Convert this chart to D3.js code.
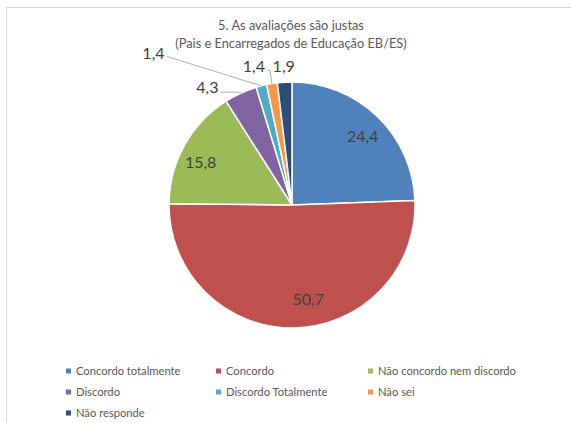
<!DOCTYPE html>
<html>
<head>
<meta charset="utf-8">
<script src="https://cdn.jsdelivr.net/npm/d3@7"></script>
<style>
  html, body { margin: 0; padding: 0; background: #fff; }
  svg { display: block; font-family: Lato, Carlito, Calibri, sans-serif; }
</style>
</head>
<body>
<svg id="chart" width="571" height="423"></svg>
<script>
// values (percent)
const categories = ["Concordo totalmente", "Concordo", "Não concordo nem discordo",
  "Discordo", "Discordo Totalmente", "Não sei", "Não responde"];
const values = [24.4, 50.7, 15.8, 4.3, 1.4, 1.4, 1.9];
const labels = ["24,4", "50,7", "15,8", "4,3", "1,4", "1,4", "1,9"];
const colors = ["#4F81BD", "#C0504D", "#9BBB59", "#8064A2", "#4BACC6", "#F79646", "#2C4D75"];
const titleLines = ["5. As avaliações são justas", "(Pais e Encarregados de Educação EB/ES)"];

var width = 571, height = 423;
var cx = 292, cy = 205, R = 123;

// label placement: radius as a fraction of R, angle tweak in degrees, leader style
var placement = [
  { r: 0.80, da: 2, leader: null },
  { r: 0.78, da: -9, leader: null },
  { r: 0.82, da: -4, leader: null },
  { r: 1.18, da: -11, leader: "h" },
  { r: 1.67, da: -28, leader: "line" },
  { r: 1.17, da: -6, leader: "elbow" },
  { r: 1.13, da: 0, leader: null }
];

var svg = d3.select("#chart");

// chart area border
svg.append("rect")
  .attr("x", 6.5).attr("y", 7.5)
  .attr("width", 570).attr("height", 420)
  .attr("fill", "none")
  .attr("stroke", "#d9d9d9")
  .attr("stroke-width", 1);

// title
svg.append("text")
  .attr("x", 291).attr("y", 30)
  .attr("text-anchor", "middle")
  .attr("fill", "#595959")
  .style("font-size", "12.8px")
  .selectAll("tspan")
  .data(titleLines)
  .join("tspan")
  .attr("x", 291)
  .attr("dy", (d, i) => i ? 18 : 0)
  .text(d => d);

var pie = d3.pie().sort(null).value(d => d);
var arcs = pie(values);
var arc = d3.arc().innerRadius(0).outerRadius(R);

var g = svg.append("g").attr("transform", "translate(" + cx + "," + cy + ")");

g.selectAll("path.slice")
  .data(arcs)
  .join("path")
  .attr("class", "slice")
  .attr("d", arc)
  .attr("fill", (d, i) => colors[i])
  .attr("stroke", "#fff")
  .attr("stroke-width", 1.5)
  .attr("stroke-linejoin", "round");

function polar(a, r) {
  return [r * Math.sin(a), -r * Math.cos(a)];
}

arcs.forEach(function (d, i) {
  var p = placement[i];
  var mid = (d.startAngle + d.endAngle) / 2;
  var pos = polar(mid + p.da * Math.PI / 180, p.r * R);
  var edge = polar(mid, R);

  var t = g.append("text")
    .attr("x", pos[0]).attr("y", pos[1])
    .attr("text-anchor", "middle")
    .attr("dy", "0.35em")
    .attr("fill", "#404040")
    .style("font-size", "16px")
    .text(labels[i]);

  if (!p.leader) return;
  var bb = t.node().getBBox();
  var pts;
  if (p.leader === "h") {
    pts = [[bb.x + bb.width + 2, pos[1] + 5], [edge[0], pos[1] + 5], edge];
  } else if (p.leader === "line") {
    pts = [[bb.x + bb.width + 2, pos[1] + 3], edge];
  } else {
    pts = [[bb.x + bb.width + 2, pos[1] + 4], [edge[0] - 2, pos[1] + 4], edge];
  }
  g.append("path")
    .attr("d", d3.line()(pts))
    .attr("fill", "none")
    .attr("stroke", "#a6a6a6")
    .attr("stroke-width", 0.9);
});

// legend
var legendCols = [66, 216, 368];
var legendRows = [371, 392, 413];
var legend = svg.append("g").attr("class", "legend");
categories.forEach(function (c, i) {
  var x = legendCols[i % 3], y = legendRows[Math.floor(i / 3)];
  var item = legend.append("g").attr("transform", "translate(" + x + "," + y + ")");
  item.append("rect")
    .attr("x", 0).attr("y", -2.5)
    .attr("width", 5).attr("height", 5)
    .attr("fill", colors[i]);
  item.append("text")
    .attr("x", 10).attr("y", 0)
    .attr("dy", "0.35em")
    .attr("fill", "#595959")
    .style("font-size", "11.2px")
    .text(c);
});
</script>
</body>
</html>
